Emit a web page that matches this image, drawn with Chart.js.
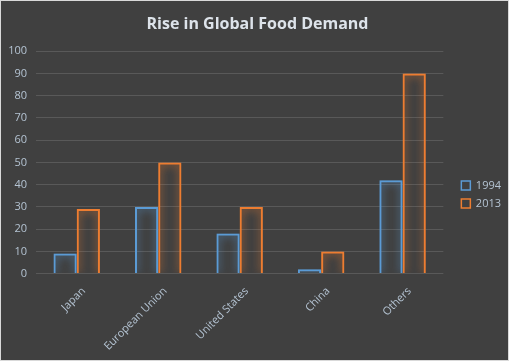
<!DOCTYPE html>
<html>
<head>
<meta charset="utf-8">
<script src="https://cdn.jsdelivr.net/npm/chart.js@4"></script>
<style>
  html, body { margin: 0; padding: 0; background: #404040; }
  #wrap { width: 509px; height: 361px; box-sizing: border-box; border: 1px solid #d9d9d9; }
</style>
</head>
<body>
<div id="wrap"><canvas id="chart" width="507" height="359"></canvas></div>
<script>
const regions = ["Japan", "European Union", "United States", "China", "Others"];
const demand1994 = [9, 30, 18, 2, 42];
const demand2013 = [29, 50, 30, 10, 90];
const yTicks = [0, 10, 20, 30, 40, 50, 60, 70, 80, 90, 100];

const textColor = "#b4c3d2";

// soft glow round each bar outline
const glow = {
  id: "glow",
  beforeDatasetDraw(chart, args) {
    const ctx = chart.ctx;
    ctx.save();
    ctx.shadowColor = args.meta._dataset.borderColor;
    ctx.shadowBlur = 8;
  },
  afterDatasetDraw(chart) {
    chart.ctx.restore();
  }
};

// nudge the legend a little to the right
const legendShift = {
  id: "legendShift",
  afterLayout(chart) {
    if (chart.legend) {
      chart.legend.left += 5;
      chart.legend.right += 5;
    }
  }
};

new Chart(document.getElementById("chart"), {
  type: "bar",
  data: {
    labels: regions,
    datasets: [
      {
        label: "1994",
        data: demand1994,
        borderColor: "#5b9bd5",
        backgroundColor: "rgba(0,0,0,0)",
        borderWidth: 2,
        categoryPercentage: 0.57,
        barPercentage: 1
      },
      {
        label: "2013",
        data: demand2013,
        borderColor: "#ed7d31",
        backgroundColor: "rgba(0,0,0,0)",
        borderWidth: 2,
        categoryPercentage: 0.57,
        barPercentage: 1
      }
    ]
  },
  options: {
    responsive: false,
    animation: false,
    layout: { padding: { left: 8, right: 2, top: 6, bottom: 4 } },
    plugins: {
      title: {
        display: true,
        text: "Rise in Global Food Demand",
        color: "#dde3ea",
        font: { family: "Open Sans", size: 16, weight: "bold" },
        padding: { top: 8, bottom: 17 }
      },
      legend: {
        position: "right",
        title: { display: true, text: " ", font: { size: 11 }, padding: { top: 6, bottom: 7 } },
        labels: {
          color: textColor,
          font: { family: "Open Sans", size: 11 },
          boxWidth: 9,
          boxHeight: 9,
          padding: 7,
          generateLabels(chart) {
            return chart.data.datasets.map((ds, i) => ({
              text: ds.label,
              fillStyle: "rgba(0,0,0,0)",
              strokeStyle: ds.borderColor,
              lineWidth: 1.5,
              fontColor: textColor,
              datasetIndex: i
            }));
          }
        }
      },
      tooltip: { enabled: false }
    },
    scales: {
      x: {
        grid: { display: false },
        border: { display: false },
        ticks: {
          color: textColor,
          font: { family: "Open Sans", size: 11 },
          maxRotation: 45,
          minRotation: 45,
          labelOffset: 7
        }
      },
      y: {
        min: 0,
        max: 100,
        afterBuildTicks(axis) {
          axis.ticks = yTicks.map(v => ({ value: v }));
        },
        afterFit(axis) { axis.width = 27; },
        grid: { color: "#595959", lineWidth: 1, drawTicks: false },
        border: { display: false },
        ticks: {
          color: textColor,
          font: { family: "Open Sans", size: 11 },
          padding: 9
        }
      },
      gap: {
        position: "right",
        display: true,
        grid: { display: false },
        border: { display: false },
        ticks: { display: false },
        afterFit(axis) { axis.width = 6; }
      }
    }
  },
  plugins: [glow, legendShift]
});
</script>
</body>
</html>
